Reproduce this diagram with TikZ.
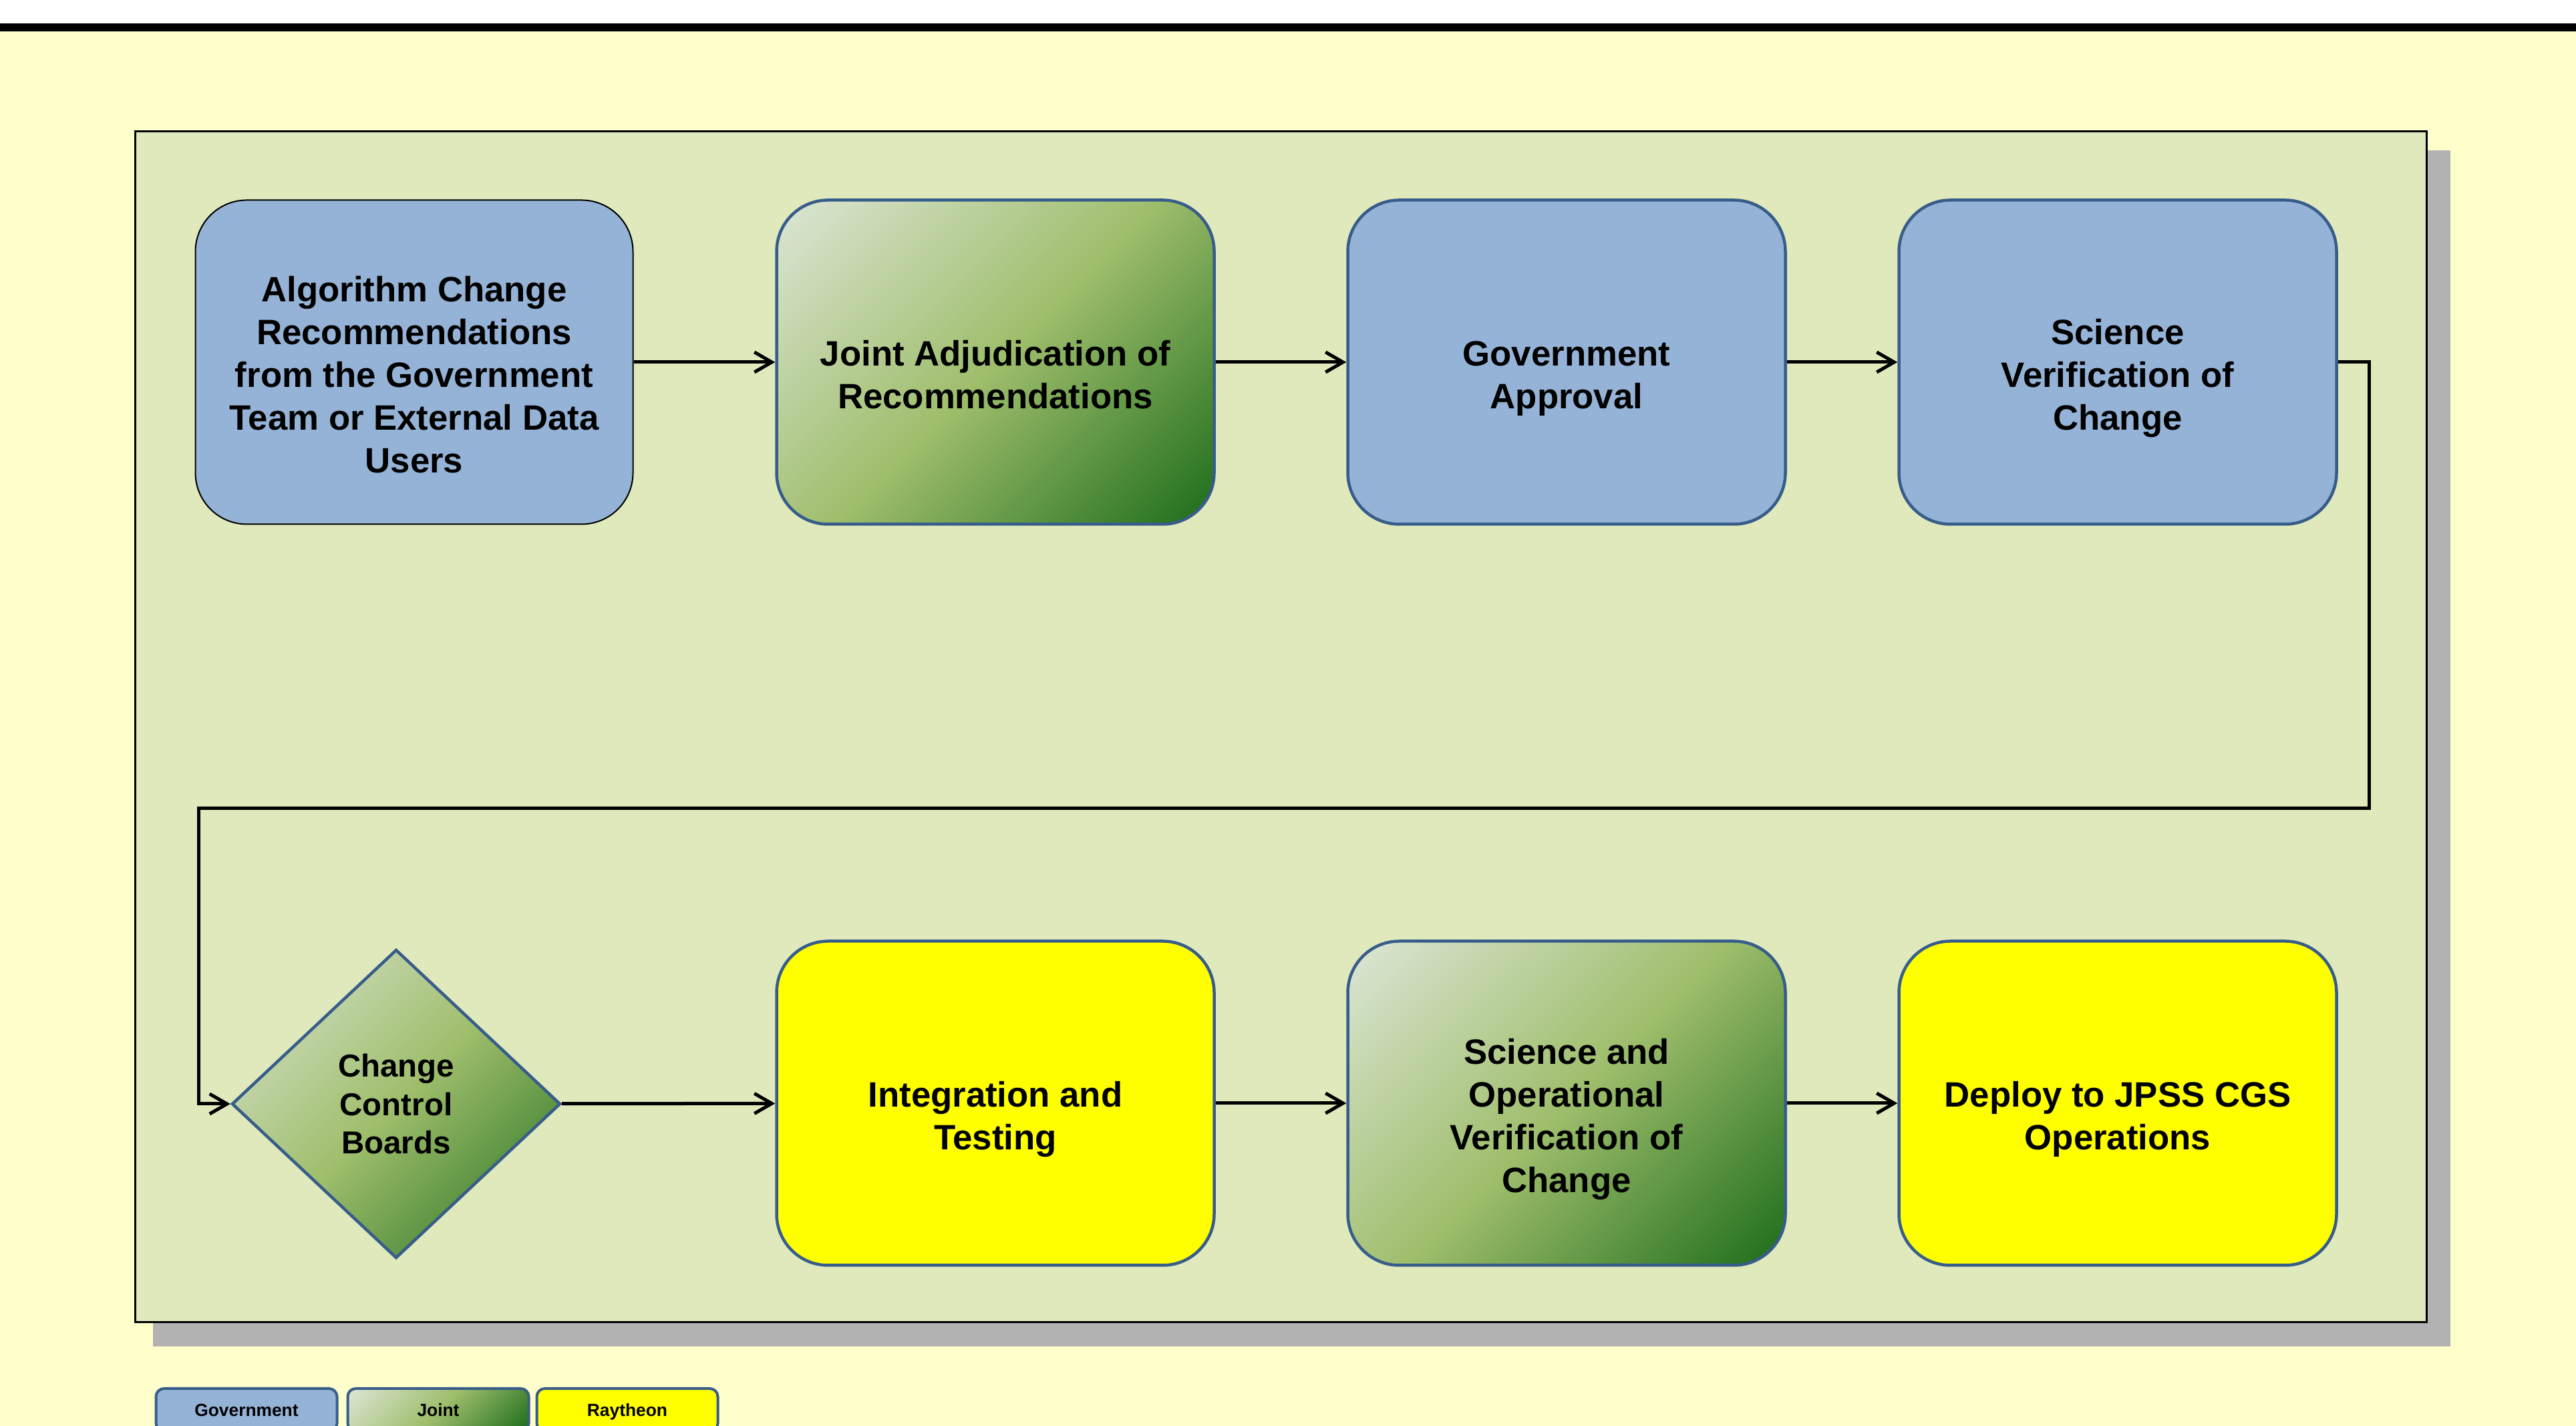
\documentclass[tikz,border=0pt]{standalone}
\usepackage{fontspec}
\setmainfont{Liberation Sans}
\usetikzlibrary{shapes.geometric,arrows.meta}

\definecolor{bgyellow}{HTML}{FFFFCC}
\definecolor{panelgreen}{HTML}{DFE9BC}
\definecolor{shadowgray}{HTML}{B2B2B2}
\definecolor{govblue}{HTML}{95B3D7}
\definecolor{edgeblue}{HTML}{385D8A}
\definecolor{rayyellow}{HTML}{FFFF00}
\definecolor{jointlight}{HTML}{DCE6D6}
\definecolor{jointmid}{HTML}{9FBE6C}
\definecolor{jointdark}{HTML}{1C6C1A}

% corner to corner fade for the joint boxes
\pgfdeclareverticalshading{jointfade}{100bp}{color(0bp)=(jointdark); color(14.6bp)=(jointdark);
  color(50bp)=(jointmid); color(85.4bp)=(jointlight); color(100bp)=(jointlight)}

% extra room above the first line of a box text
\newcommand{\topgap}{\rule{0pt}{0.75cm}}

\begin{document}
\begin{tikzpicture}[>={Straight Barb[length=0.26cm,width=0.3cm]},node distance=8.5cm,
    main node/.style={rectangle,rounded corners=0.77cm,minimum width=6.55cm,minimum height=4.85cm,align=center,
      font=\bfseries\fontsize{15}{18.2}\selectfont,draw=edgeblue,line width=0.045cm,text depth=0cm},
    gov node/.style={main node,fill=govblue},
    joint node/.style={main node,shade,shading=jointfade,shading angle=45},
    ray node/.style={main node,fill=rayyellow},
    key node/.style={rectangle,rounded corners=0.12cm,minimum width=2.71cm,minimum height=0.64cm,draw=edgeblue,
      line width=0.04cm,text height=0.2cm,text depth=-0.05cm,font=\bfseries\fontsize{7.5}{9}\selectfont},
    flow/.style={->,line width=0.05cm}]
  \useasboundingbox (0,0) rectangle (38.56,21.34);
  \clip (0,0) rectangle (38.56,21.34);
  % page background and top rule
  \fill[bgyellow] (0,0) rectangle (38.56,21.34);
  \fill[white] (0,20.99) rectangle (38.56,21.34);
  \fill[black] (0,20.87) rectangle (38.56,20.99);
  % panel with shadow
  \fill[shadowgray] (2.29,1.19) rectangle (36.68,19.09);
  \draw[fill=panelgreen,line width=0.03cm] (2.02,1.55) rectangle (36.32,19.37);

  % top row
  \node[gov node,draw=black,line width=0.02cm] (1) at (6.2,15.92)
    {\topgap Algorithm Change\\Recommendations\\from the Government\\Team or External Data\\Users};
  \node[joint node] (2) [right of=1,node distance=8.7cm] {\topgap Joint Adjudication of\\Recommendations};
  \node[gov node] (3) [right of=2,node distance=8.55cm] {\topgap Government\\Approval};
  \node[gov node] (4) [right of=3,node distance=8.25cm] {\topgap Science\\Verification of\\Change};
  % bottom row
  \node[joint node,diamond,sharp corners,minimum width=4.92cm,minimum height=4.62cm,inner sep=0pt,
    text depth=-0.07cm,font=\bfseries\fontsize{13.5}{16.4}\selectfont] (5) at (5.93,4.82)
    {Change\\Control\\Boards};
  \node[ray node] (6) [below of=2,node distance=11.09cm] {\topgap Integration and\\Testing};
  \node[joint node] (7) [below of=3,node distance=11.09cm] {\topgap Science and\\Operational\\Verification of\\Change};
  \node[ray node] (8) [below of=4,node distance=11.09cm] {\topgap Deploy to JPSS CGS\\Operations};

  % connectors
  \coordinate (c1) at (35.46,9.24);
  \coordinate (c2) at (2.975,9.24);
  \draw[flow] (1) -- (2);
  \draw[flow] (2) -- (3);
  \draw[flow] (3) -- (4);
  \draw[flow] (4.east) -| (c1) -- (c2) |- (5.west);
  \draw[flow] (5) -- (6);
  \draw[flow] (6) -- (7);
  \draw[flow] (7) -- (8);

  % legend
  \node[key node,fill=govblue] (k1) at (3.69,0.24) {Government};
  \node[key node,shade,shading=jointfade,shading angle=45] (k2) [right of=k1,node distance=2.87cm] {Joint};
  \node[key node,fill=rayyellow] (k3) [right of=k2,node distance=2.83cm] {Raytheon};
\end{tikzpicture}
\end{document}
